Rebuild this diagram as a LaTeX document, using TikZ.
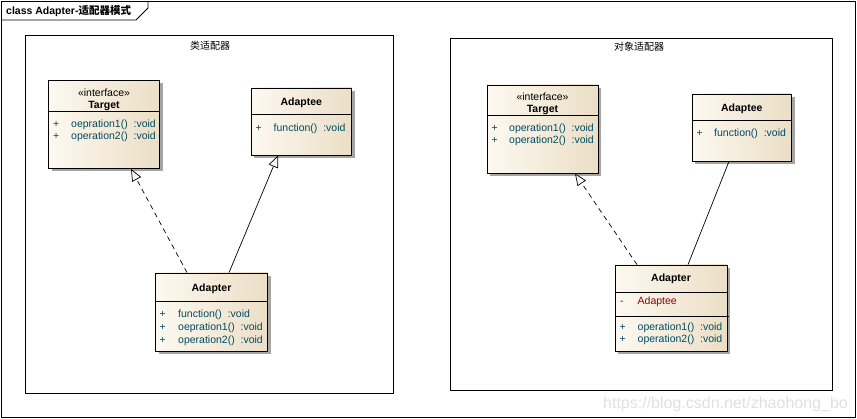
\documentclass[tikz,border=0pt]{standalone}
\usepackage{fontspec}
\setmainfont{Liberation Sans}
\newfontfamily\cjk{Noto Sans CJK SC}
\usetikzlibrary{arrows.meta, shadows, positioning, calc}
\definecolor{umlleft}{RGB}{253,249,240}
\definecolor{umlright}{RGB}{235,222,198}
\definecolor{umlop}{RGB}{0,76,98}
\definecolor{umlattr}{RGB}{150,0,0}
\definecolor{umlshadow}{RGB}{165,165,165}
\tikzset{
    classbox/.style 2 args={draw, line width=0.8pt, inner sep=0pt,
        left color=umlleft, right color=umlright,
        minimum width=#1, minimum height=#2,
        drop shadow={shadow xshift=3pt, shadow yshift=-3pt, fill=umlshadow, opacity=1}
    },
    umltext/.style={inner sep=0pt, anchor=base, font=\fontsize{10.5}{12}\selectfont},
    classname/.style={umltext, font=\fontsize{10.5}{12}\selectfont\bfseries},
    member/.style={umltext, anchor=base west, text=umlop},
    attrib/.style={umltext, anchor=base west, text=umlattr},
    sepline/.style={line width=0.8pt},
    frameline/.style={line width=0.9pt},
    pkgtext/.style={inner sep=0pt, font=\fontsize{10}{12}\selectfont\cjk},
    realize/.style={line width=0.7pt, dash pattern=on 5pt off 4pt,
        -{Triangle[length=12pt, width=10pt, fill=umlleft]}},
    general/.style={line width=0.7pt, -{Triangle[length=12pt, width=10pt, fill=umlleft]}},
    assoc/.style={line width=0.7pt},
    watermark/.style={inner sep=0pt, anchor=base west, text=black!12,
        font=\fontsize{16}{18}\selectfont}
}
\begin{document}
\begin{tikzpicture}[x=1pt, y=-1pt]
    \useasboundingbox (0,0) rectangle (857,419);
    % outer frame and tab
    \draw[frameline] (1,1) rectangle (855,417);
    \draw[frameline] (1,20) -- (136,20) -- (148,8) -- (148,1);
    \node[inner sep=0pt, anchor=base west, font=\fontsize{10.5}{12}\selectfont\bfseries] (title)
        at (6,15) {class Adapter-{\cjk 适配器模式}};
    % packages
    \draw[frameline] (25,35) rectangle (393,393);
    \node[pkgtext] (pkgA) at (210,46) {类适配器};
    \draw[frameline] (450,38) rectangle (832,390);
    \node[pkgtext] (pkgB) at (639,47) {对象适配器};

    % class adapter
    \node[classbox={111pt}{88pt}] (tgtA) at (104,124.5) {};
    \draw[sepline] (tgtA.west |- 0,111) -- (tgtA.east |- 0,111);
    \node[umltext] (tgtA-st) at (104,96.5) {«interface»};
    \node[classname] (tgtA-nm) at (104,109) {Target};
    \node[member] (tgtA-p1) at (53,128) {+};
    \node[member] (tgtA-o1) at (71,128) {oepration1()~~:void};
    \node[member] (tgtA-p2) at (53,140) {+};
    \node[member] (tgtA-o2) at (71,140) {operation2()~~:void};

    \node[classbox={100.5pt}{67pt}] (adteA) at (301.25,121.5) {};
    \draw[sepline] (adteA.west |- 0,114.5) -- (adteA.east |- 0,114.5);
    \node[classname] (adteA-nm) at (301.25,106) {Adaptee};
    \node[member] (adteA-p1) at (255.5,131.5) {+};
    \node[member] (adteA-o1) at (273.5,131.5) {function()~~:void};

    \node[classbox={112pt}{78pt}] (adpA) at (211.5,312) {};
    \draw[sepline] (adpA.west |- 0,301) -- (adpA.east |- 0,301);
    \node[classname] (adpA-nm) at (211.5,292) {Adapter};
    \node[member] (adpA-p1) at (159.5,318) {+};
    \node[member] (adpA-o1) at (178,318) {function()~~:void};
    \node[member] (adpA-p2) at (159.5,331) {+};
    \node[member] (adpA-o2) at (178,331) {oepration1()~~:void};
    \node[member] (adpA-p3) at (159.5,344) {+};
    \node[member] (adpA-o3) at (178,344) {operation2()~~:void};

    \draw[realize] ([xshift=-24.5pt]adpA.north) -- ([xshift=27pt]tgtA.south);
    \draw[general] ([xshift=17.5pt]adpA.north) -- ([xshift=-23.25pt]adteA.south);

    % object adapter
    \node[classbox={111pt}{88pt}] (tgtB) at (542.5,129) {};
    \draw[sepline] (tgtB.west |- 0,115.5) -- (tgtB.east |- 0,115.5);
    \node[umltext] (tgtB-st) at (542.5,100.5) {«interface»};
    \node[classname] (tgtB-nm) at (542.5,113) {Target};
    \node[member] (tgtB-p1) at (491.5,131.5) {+};
    \node[member] (tgtB-o1) at (509,131.5) {operation1()~~:void};
    \node[member] (tgtB-p2) at (491.5,144) {+};
    \node[member] (tgtB-o2) at (509,144) {operation2()~~:void};

    \node[classbox={99.5pt}{67pt}] (adteB) at (741.75,127.5) {};
    \draw[sepline] (adteB.west |- 0,120.5) -- (adteB.east |- 0,120.5);
    \node[classname] (adteB-nm) at (741.75,112) {Adaptee};
    \node[member] (adteB-p1) at (696.5,137) {+};
    \node[member] (adteB-o1) at (714,137) {function()~~:void};

    \node[classbox={112pt}{86pt}] (adpB) at (671,308) {};
    \draw[sepline] (adpB.west |- 0,292) -- (adpB.east |- 0,292);
    \draw[sepline] (adpB.west |- 0,316.5) -- ([xshift=2pt]adpB.east |- 0,316.5);
    \node[classname] (adpB-nm) at (671,282) {Adapter};
    \node[attrib] (adpB-m1) at (620,305) {-};
    \node[attrib] (adpB-a1) at (637.5,305) {Adaptee};
    \node[member] (adpB-p1) at (619.5,330.5) {+};
    \node[member] (adpB-o1) at (637.5,330.5) {operation1()~~:void};
    \node[member] (adpB-p2) at (619.5,343) {+};
    \node[member] (adpB-o2) at (637.5,343) {operation2()~~:void};

    \draw[realize] ([xshift=-34pt]adpB.north) -- ([xshift=32.5pt]tgtB.south);
    \draw[assoc] ([xshift=17pt]adpB.north) -- ([xshift=-12.75pt]adteB.south);

    \node[watermark] (wm) at (603,408.5) {https://blog.csdn.net/zhaohong\_bo};
\end{tikzpicture}
\end{document}
